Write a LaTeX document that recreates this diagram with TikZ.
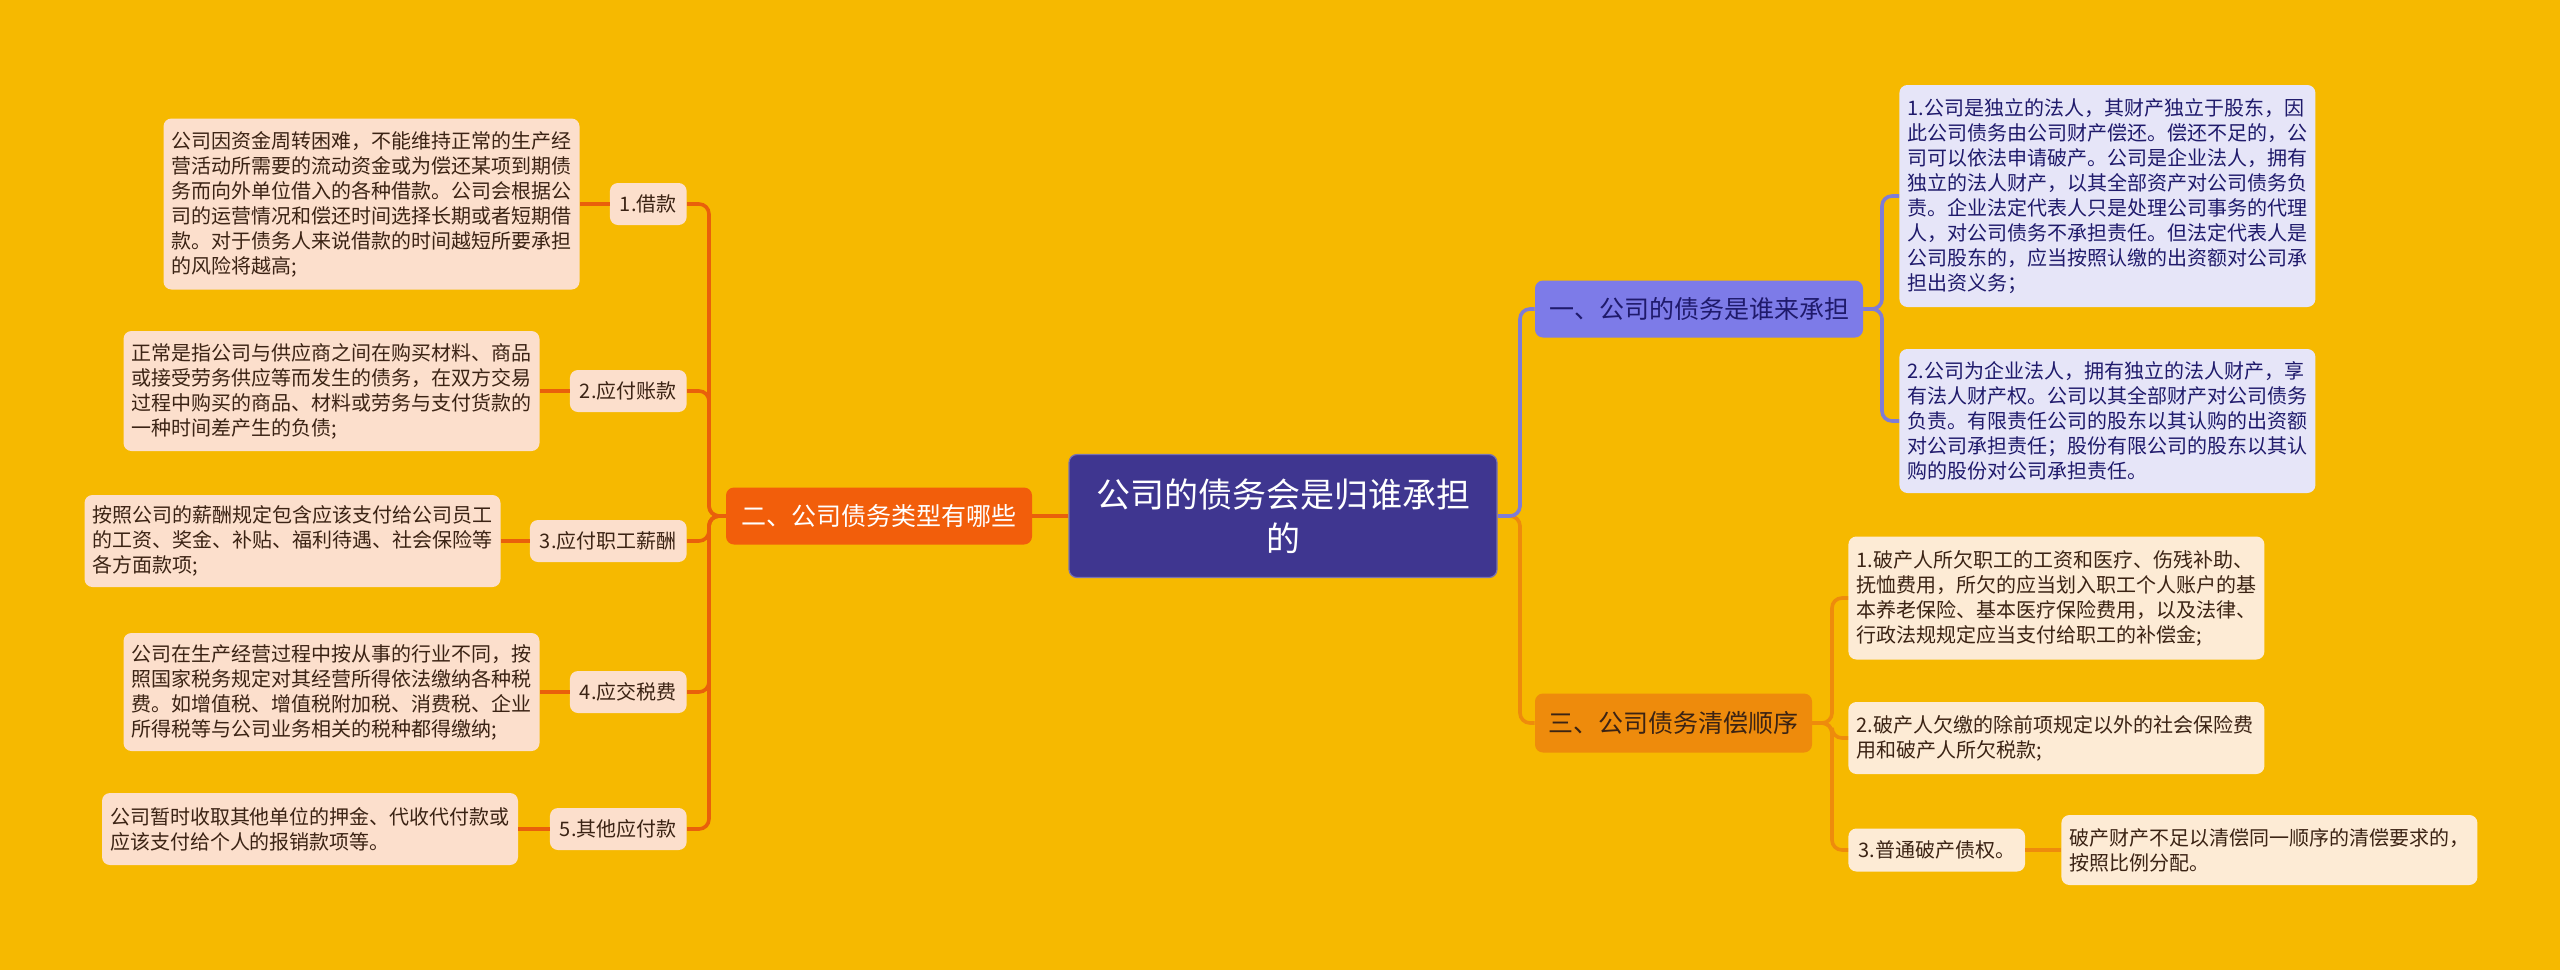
\documentclass[tikz,border=0pt]{standalone}
\usepackage{fontspec}
\setmainfont{Noto Sans CJK SC}
\definecolor{bg}{HTML}{F6B900}
\definecolor{rootfill}{HTML}{3F3690}
\definecolor{twofill}{HTML}{F25E0B}
\definecolor{onefill}{HTML}{7D7BE8}
\definecolor{threefill}{HTML}{EE8B0C}
\definecolor{peach}{HTML}{FCDFCC}
\definecolor{lav}{HTML}{E6E5F8}
\definecolor{cream}{HTML}{FDEBD5}
\definecolor{lline}{HTML}{E9600B}
\definecolor{pline}{HTML}{7F7CD6}
\definecolor{oline}{HTML}{EE8B0C}
\definecolor{brown}{HTML}{3B2314}
\definecolor{navy}{HTML}{1F1A6B}
\tikzset{
  base/.style={rounded corners=4pt, inner sep=0pt, font=\fontsize{10pt}{12.5pt}\selectfont},
  detail/.style={base, text width=200pt, align=left, minimum width=208pt},
  ldetail/.style={detail, fill=peach, text=brown},
  llabel/.style={base, fill=peach, text=brown, inner xsep=5pt, minimum height=21pt, anchor=east},
  rtdetail/.style={detail, fill=lav, text=navy, anchor=west},
  rbdetail/.style={detail, fill=cream, text=brown, anchor=west},
  rblabel/.style={base, fill=cream, text=brown, inner xsep=5pt, minimum height=21.5pt, anchor=west},
  mainbr/.style={rounded corners=4pt, inner sep=0pt, font=\fontsize{12.5pt}{15pt}\selectfont, minimum height=28.5pt},
  conn/.style={line width=1.8pt, rounded corners=5pt},
}
\begin{document}
\begin{tikzpicture}[x=0.5pt,y=-0.5pt]
\path[fill=bg] (0,0) rectangle (2560,970);

% root
\node[rounded corners=4pt, fill=rootfill, draw=rootfill!70!white, line width=0.6pt, text=white,
  minimum width=214pt, minimum height=61.5pt, text width=200pt, align=center,
  font=\fontsize{17pt}{22pt}\selectfont] (root) at (1283,516) {公司的债务会是归谁承担\\的};

% main branches
\node[mainbr, fill=twofill, text=white, minimum width=153pt] (two) at (879,516) {二、公司债务类型有哪些};
\node[mainbr, fill=onefill, text=navy, minimum width=164pt] (one) at (1699,309) {一、公司的债务是谁来承担};
\node[mainbr, fill=threefill, text=brown, minimum width=138.5pt, minimum height=29.5pt] (three) at (1673.5,723) {三、公司债务清偿顺序};

% left labels
\node[llabel] (l1) at (687,204) {1.借款};
\node[llabel] (l2) at (687,391) {2.应付账款};
\node[llabel] (l3) at (687,541) {3.应付职工薪酬};
\node[llabel] (l4) at (687,692) {4.应交税费};
\node[llabel] (l5) at (687,829) {5.其他应付款};

% left details
\node[ldetail, minimum height=85.5pt] (d1) at (371.5,204) {公司因资金周转困难，不能维持正常的生产经\\营活动所需要的流动资金或为偿还某项到期债\\务而向外单位借入的各种借款。公司会根据公\\司的运营情况和偿还时间选择长期或者短期借\\款。对于债务人来说借款的时间越短所要承担\\的风险将越高;};
\node[ldetail, minimum height=60pt] (d2) at (331.5,391) {正常是指公司与供应商之间在购买材料、商品\\或接受劳务供应等而发生的债务，在双方交易\\过程中购买的商品、材料或劳务与支付货款的\\一种时间差产生的负债;};
\node[ldetail, minimum height=46pt] (d3) at (292.5,541) {按照公司的薪酬规定包含应该支付给公司员工\\的工资、奖金、补贴、福利待遇、社会保险等\\各方面款项;};
\node[ldetail, minimum height=59pt] (d4) at (331.5,692) {公司在生产经营过程中按从事的行业不同，按\\照国家税务规定对其经营所得依法缴纳各种税\\费。如增值税、增值税附加税、消费税、企业\\所得税等与公司业务相关的税种都得缴纳;};
\node[ldetail, minimum height=36pt] (d5) at (310,829) {公司暂时收取其他单位的押金、代收代付款或\\应该支付给个人的报销款项等。};

% right top details
\node[rtdetail, minimum height=111pt] (r1) at (1899,196) {1.公司是独立的法人，其财产独立于股东，因\\此公司债务由公司财产偿还。偿还不足的，公\\司可以依法申请破产。公司是企业法人，拥有\\独立的法人财产，以其全部资产对公司债务负\\责。企业法定代表人只是处理公司事务的代理\\人，对公司债务不承担责任。但法定代表人是\\公司股东的，应当按照认缴的出资额对公司承\\担出资义务；};
\node[rtdetail, minimum height=72pt] (r2) at (1899,421) {2.公司为企业法人，拥有独立的法人财产，享\\有法人财产权。公司以其全部财产对公司债务\\负责。有限责任公司的股东以其认购的出资额\\对公司承担责任；股份有限公司的股东以其认\\购的股份对公司承担责任。};

% right bottom
\node[rbdetail, minimum height=61.5pt] (b1) at (1848,598) {1.破产人所欠职工的工资和医疗、伤残补助、\\抚恤费用，所欠的应当划入职工个人账户的基\\本养老保险、基本医疗保险费用，以及法律、\\行政法规规定应当支付给职工的补偿金;};
\node[rbdetail, minimum height=36pt] (b2) at (1848,738) {2.破产人欠缴的除前项规定以外的社会保险费\\用和破产人所欠税款;};
\node[rblabel] (b3) at (1848,850) {3.普通破产债权。};
\node[rbdetail, minimum height=35pt] (b3d) at (2061,850) {破产财产不足以清偿同一顺序的清偿要求的，\\按照比例分配。};

% connector junctions
\coordinate (lt) at (709,516);
\coordinate (rc) at (1520,516);
\coordinate (ot) at (1882,309);
\coordinate (tt) at (1832,723);

% left connectors
\draw[conn, lline] (root.west) -- (two.east);
\foreach \n in {l1,l2,l3,l4,l5} \draw[conn, lline] (two.west) -- (lt) |- (\n.east);
\draw[conn, lline] (l1.west) -- (d1.east);
\draw[conn, lline] (l2.west) -- (d2.east);
\draw[conn, lline] (l3.west) -- (d3.east);
\draw[conn, lline] (l4.west) -- (d4.east);
\draw[conn, lline] (l5.west) -- (d5.east);

% right connectors
\draw[conn, oline] (root.east) -- (rc) |- (three.west);
\draw[conn, pline] (root.east) -- (rc) |- (one.west);
\draw[conn, pline] (one.east) -- (ot) |- (r1.west);
\draw[conn, pline] (one.east) -- (ot) |- (r2.west);
\draw[conn, oline] (three.east) -- (tt) |- (b1.west);
\draw[conn, oline] (three.east) -- (tt) |- (b2.west);
\draw[conn, oline] (three.east) -- (tt) |- (b3.west);
\draw[conn, oline] (b3.east) -- (b3d.west);
\end{tikzpicture}
\end{document}
